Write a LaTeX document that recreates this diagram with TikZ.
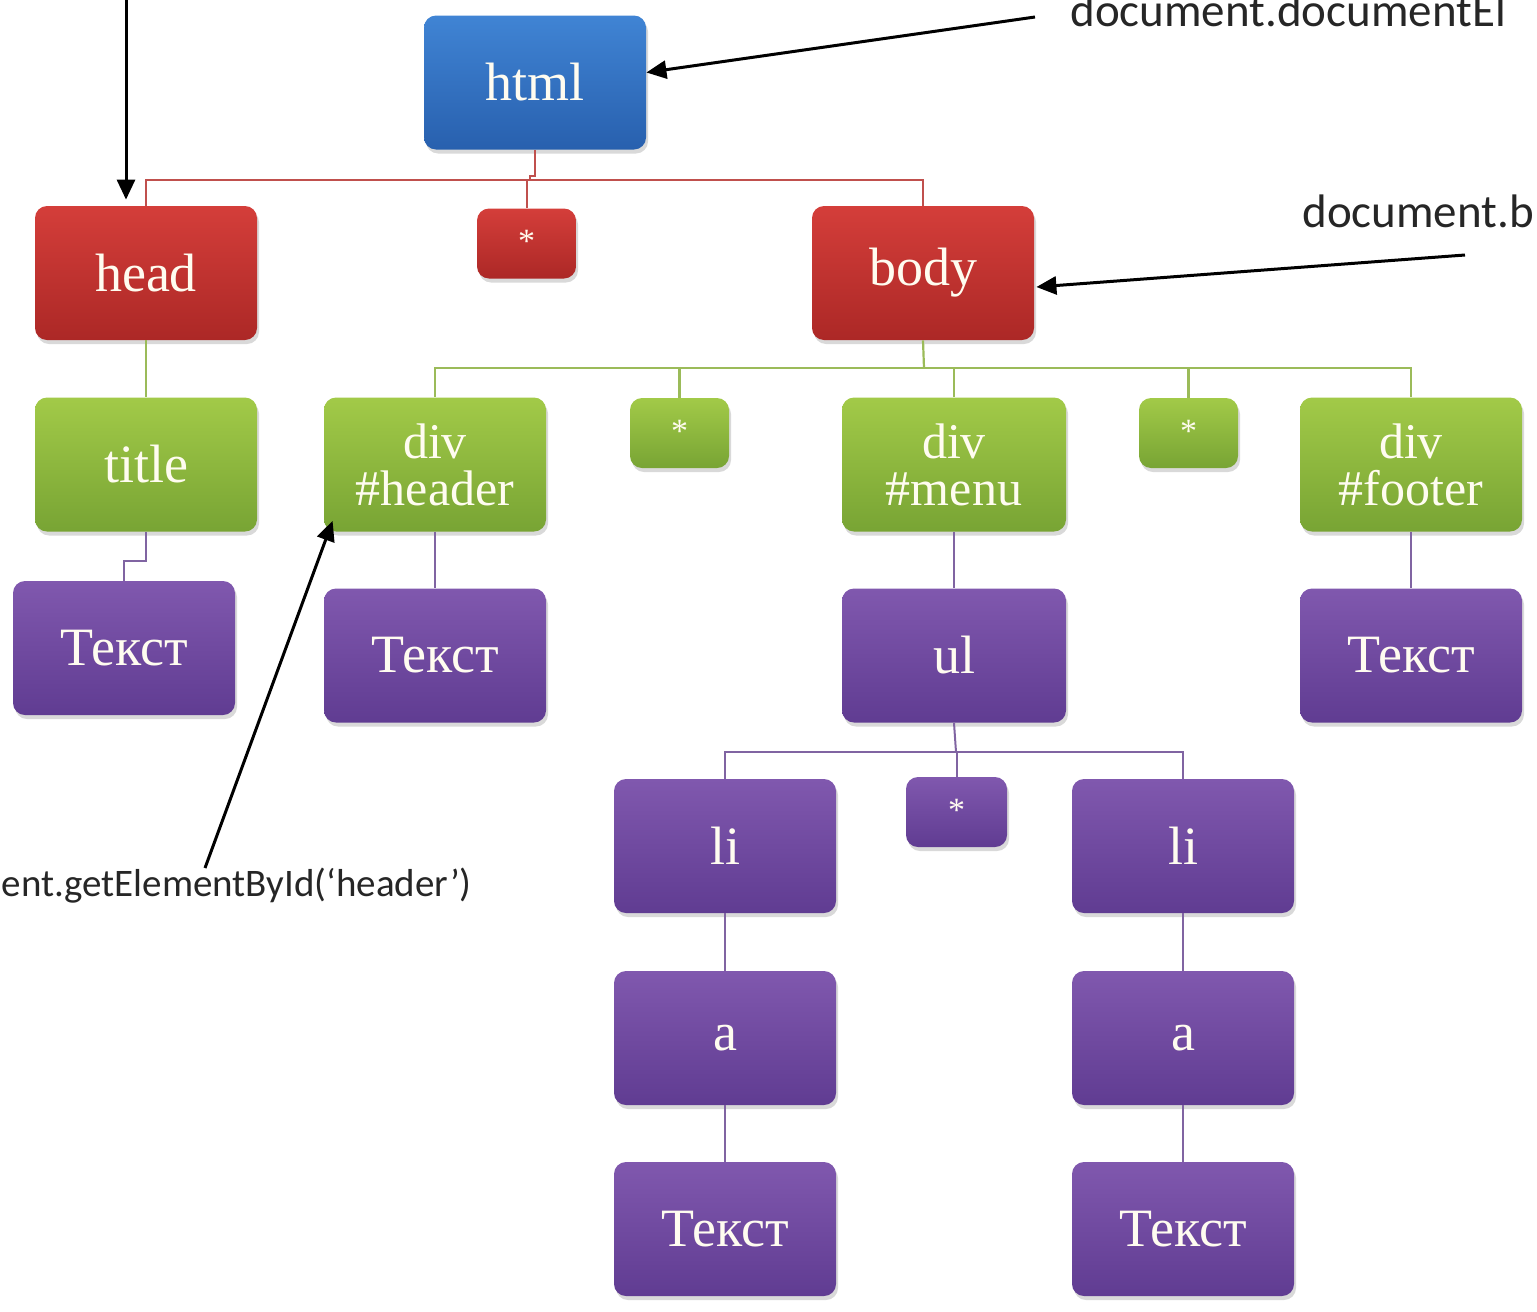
\documentclass[tikz,border=0pt]{standalone}
\usepackage{fontspec}
\setmainfont{Liberation Serif}
\newfontfamily\calib{Carlito}
\usetikzlibrary{arrows.meta,shadows}
\definecolor{bluetop}{RGB}{64,132,212}
\definecolor{bluebot}{RGB}{40,96,174}
\definecolor{redtop}{RGB}{212,62,58}
\definecolor{redbot}{RGB}{172,40,38}
\definecolor{greentop}{RGB}{162,202,72}
\definecolor{greenbot}{RGB}{120,164,52}
\definecolor{purptop}{RGB}{128,88,174}
\definecolor{purpbot}{RGB}{96,60,146}
\definecolor{redline}{RGB}{192,80,77}
\definecolor{greenline}{RGB}{155,187,89}
\definecolor{purpline}{RGB}{128,100,162}
\definecolor{nodetext}{RGB}{255,252,240}
\tikzset{
  box/.style={rounded corners=6pt, inner sep=0pt, text=nodetext, align=center,
    drop shadow={opacity=0.3, shadow xshift=1pt, shadow yshift=-2pt}},
  bigbox/.style={box, minimum width=111pt, minimum height=67pt,
    font=\fontsize{27}{23.5}\selectfont},
  twobox/.style={bigbox, font=\fontsize{25}{23.5}\selectfont},
  starbox/.style={box, minimum width=49.5pt, minimum height=35pt,
    font=\fontsize{17}{17}\selectfont},
  bluefill/.style={top color=bluetop, bottom color=bluebot},
  redfill/.style={top color=redtop, bottom color=redbot},
  greenfill/.style={top color=greentop, bottom color=greenbot},
  purpfill/.style={top color=purptop, bottom color=purpbot},
  rline/.style={draw=redline, line width=1pt},
  gline/.style={draw=greenline, line width=1.1pt},
  pline/.style={draw=purpline, line width=1pt},
  ptr/.style={draw=black, line width=1.5pt, -{Triangle[length=10pt,width=9pt]}},
  lbl/.style={font=\calib\fontsize{19.5}{20}\selectfont, text=black!85, inner sep=0pt},
  lblbig/.style={lbl, font=\calib\fontsize{23.5}{24}\selectfont}
}
\begin{document}
\begin{tikzpicture}[x=0.5pt,y=-0.5pt]
\useasboundingbox (0,0) rectangle (1537,1312);
\clip (0,0) rectangle (1537,1312);
% nodes
\node[bigbox,bluefill] (html) at (535,82.5) {html};
\node[bigbox,redfill] (head) at (146,273) {head};
\node[starbox,redfill] (s1) at (526.5,243.5) {\raisebox{2pt}{*}};
\node[bigbox,redfill] (body) at (923,273) {body};
\node[bigbox,greenfill] (title) at (146,464.5) {title};
\node[twobox,greenfill] (hdr) at (435,464.5) {div\\\#header};
\node[starbox,greenfill] (s2) at (679.5,433) {\raisebox{2pt}{*}};
\node[twobox,greenfill,minimum width=112pt] (menu) at (954,464.5) {div\\\#menu};
\node[starbox,greenfill] (s3) at (1188.5,433) {\raisebox{2pt}{*}};
\node[twobox,greenfill] (foot) at (1411,464.5) {div\\\#footer};
\node[bigbox,purpfill] (t1) at (124,648) {Текст};
\node[bigbox,purpfill] (t2) at (435,655.5) {Текст};
\node[bigbox,purpfill,minimum width=112pt] (ul) at (954,655.5) {ul};
\node[bigbox,purpfill] (t3) at (1411,655.5) {Текст};
\node[bigbox,purpfill] (li1) at (725,846) {li};
\node[starbox,purpfill,minimum width=50.5pt] (s4) at (956.5,812) {\raisebox{2pt}{*}};
\node[bigbox,purpfill] (li2) at (1183,846) {li};
\node[bigbox,purpfill] (a1) at (725,1038) {a};
\node[bigbox,purpfill] (a2) at (1183,1038) {a};
\node[bigbox,purpfill] (t4) at (725,1229) {Текст};
\node[bigbox,purpfill] (t5) at (1183,1229) {Текст};
% bus coordinates
\coordinate (b1) at (530,180);
\coordinate (b2) at (924,368);
\coordinate (b3) at (956,752);
% red connectors
\draw[rline] (html.south) -- ++(0,26) -| (b1);
\draw[rline] (head.north) |- (b1) -| (body.north);
\draw[rline] (s1.north) -- (s1.north |- b1);
% green connectors
\draw[gline] (head.south) -- (title.north);
\draw[gline] (body.south) -- (b2);
\draw[gline] (hdr.north) |- (b2) -| (foot.north);
\draw[gline] (s2.north) -- (s2.north |- b2);
\draw[gline] (menu.north) -- (menu.north |- b2);
\draw[gline] (s3.north) -- (s3.north |- b2);
% purple connectors
\draw[pline] (title.south) -- ++(0,29) -| (t1.north);
\draw[pline] (hdr.south) -- (t2.north);
\draw[pline] (menu.south) -- (ul.north);
\draw[pline] (foot.south) -- (t3.north);
\draw[pline] (ul.south) -- (b3);
\draw[pline] (li1.north) |- (b3) -| (li2.north);
\draw[pline] (s4.north) -- (s4.north |- b3);
\draw[pline] (li1.south) -- (a1.north);
\draw[pline] (a1.south) -- (t4.north);
\draw[pline] (li2.south) -- (a2.north);
\draw[pline] (a2.south) -- (t5.north);
% labels
\node[lblbig,anchor=base west] (ldoc) at (1070,26) {document.documentEl};
\node[lblbig,anchor=base west] (lbody) at (1302,227) {document.b};
\node[lbl,anchor=base east] (lid) at (472,896) {ent.getElementById(‘header’)};
% pointer arrows
\coordinate (p0) at (126,0);
\coordinate (p1) at (1035,17);
\coordinate (p2) at (1465,255);
\coordinate (p3) at (205,868);
\draw[ptr,shorten >=3pt] (p0) -- (p0 |- head.north);
\draw[ptr] (p1) -- ([yshift=5pt]html.east);
\draw[ptr] (p2) -- ([yshift=-7pt,xshift=1pt]body.east);
\draw[ptr] (p3) -- ([shift={(4.5pt,5.5pt)}]hdr.south west);
\end{tikzpicture}
\end{document}
